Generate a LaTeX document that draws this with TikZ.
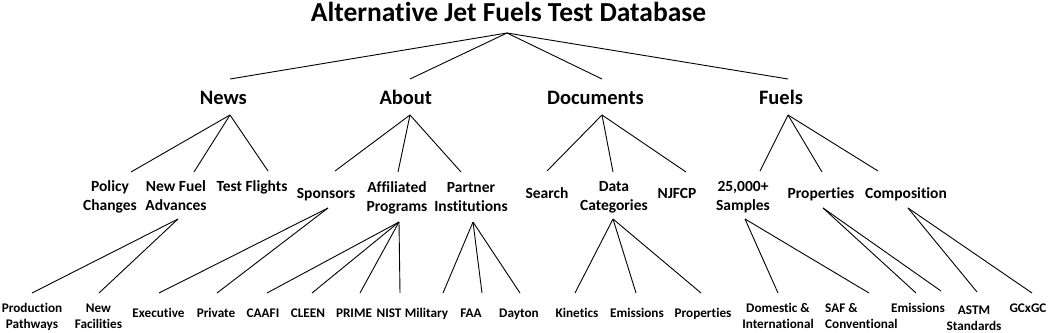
\documentclass[tikz,border=0pt]{standalone}
\usepackage{fontspec}
\setmainfont{Carlito}[Ligatures={NoCommon}]
\newcommand\twoc[2]{\begin{tabular}[t]{@{}c@{}}#1\\#2\end{tabular}}
\newcommand\twoleft[2]{\begin{tabular}[t]{@{}l@{}}#1\\#2\end{tabular}}
\begin{document}
\begin{tikzpicture}[x=1pt,y=-1pt,
  lbl/.style={inner sep=0pt, anchor=base, text=black},
  ttl/.style={lbl, font=\fontsize{27.5}{32}\selectfont\bfseries},
  lvone/.style={lbl, font=\fontsize{20.5}{24}\selectfont\bfseries},
  lvtwo/.style={lbl, font=\fontsize{15.5}{19.5}\selectfont\bfseries},
  lvthree/.style={lbl, font=\fontsize{13.2}{16}\selectfont\bfseries},
  conn/.style={draw=black, line width=0.9pt}]
\useasboundingbox (0,0) rectangle (1052,332);

% ---- title
\node[ttl] (root) at (508.5,21.7) {Alternative Jet Fuels Test Database};
\coordinate (root-b) at (507,33);

% ---- level 1
\node[lvone] (news) at (223.3,104) {News};
\node[lvone] (about) at (405.8,104) {About};
\node[lvone] (docs) at (595.5,104) {Documents};
\node[lvone] (fuels) at (781,104) {Fuels};
\coordinate (news-t) at (230,79);   \coordinate (news-b) at (230,115);
\coordinate (about-t) at (410,79);  \coordinate (about-b) at (410,115);
\coordinate (docs-t) at (602,79);   \coordinate (docs-b) at (602,115);
\coordinate (fuels-t) at (788,79);  \coordinate (fuels-b) at (788,115);

% ---- level 2
\node[lvtwo] (policy) at (110,191) {\twoc{Policy}{Changes}};
\node[lvtwo] (newfuel) at (176,191) {\twoc{New Fuel}{Advances}};
\node[lvtwo] (flights) at (252,191) {Test Flights};
\node[lvtwo] (sponsors) at (326,198) {Sponsors};
\node[lvtwo] (affil) at (397,192) {\twoc{Affiliated}{Programs}};
\node[lvtwo] (partner) at (471,192) {\twoc{Partner}{Institutions}};
\node[lvtwo] (search) at (547,198) {Search};
\node[lvtwo] (datacat) at (614,191) {\twoc{Data}{Categories}};
\node[lvtwo] (njfcp) at (677,198) {NJFCP};
\node[lvtwo] (samples) at (743,191) {\twoc{25,000+}{Samples}};
\node[lvtwo] (props) at (821,198) {Properties};
\node[lvtwo] (comp) at (906,198) {Composition};

\coordinate (policy-t) at (131,172);
\coordinate (newfuel-t) at (194,172);  \coordinate (newfuel-b) at (178,219);
\coordinate (flights-t) at (268,171);
\coordinate (sponsors-t) at (335,171); \coordinate (sponsors-b) at (328,208);
\coordinate (affil-t) at (398,172);    \coordinate (affil-b) at (399,222);
\coordinate (partner-t) at (461,172);  \coordinate (partner-b) at (473,222);
\coordinate (search-t) at (547,171);
\coordinate (datacat-t) at (613,172);  \coordinate (datacat-b) at (613,219);
\coordinate (njfcp-t) at (686,172);
\coordinate (samples-t) at (760,171);  \coordinate (samples-b) at (745,219);
\coordinate (props-t) at (822,172);    \coordinate (props-b) at (823,208);
\coordinate (comp-t) at (878,171);     \coordinate (comp-b) at (908,208);

% ---- level 3
\node[lvthree] (prod) at (32,312) {\twoc{Production}{Pathways}};
\node[lvthree] (newfac) at (98.5,312) {\twoc{New}{Facilities}};
\node[lvthree] (exec) at (158.5,317) {Executive};
\node[lvthree] (private) at (216,317) {Private};
\node[lvthree] (caafi) at (263,317) {CAAFI};
\node[lvthree] (cleen) at (308,317) {CLEEN};
\node[lvthree] (prime) at (354,317) {PRIME};
\node[lvthree] (nist) at (389,317) {NIST};
\node[lvthree] (military) at (426.5,317) {Military};
\node[lvthree] (faa) at (471,317) {FAA};
\node[lvthree] (dayton) at (519,317) {Dayton};
\node[lvthree] (kinetics) at (577,317) {Kinetics};
\node[lvthree] (emisone) at (637,317) {Emissions};
\node[lvthree] (propsthree) at (703,317) {Properties};
\node[lvthree] (domestic) at (778,312) {\twoc{Domestic \&}{International}};
\node[lvthree, anchor=base west] (saf) at (825,312) {\twoleft{SAF \&}{Conventional}};
\node[lvthree] (emistwo) at (918,312) {Emissions};
\node[lvthree] (astm) at (974,314) {\twoc{ASTM}{Standards}};
\node[lvthree] (gcxgc) at (1028,312) {GCxGC};

\coordinate (prod-t) at (32,293);
\coordinate (newfac-t) at (99,293);
\coordinate (exec-t) at (159,293);
\coordinate (private-t) at (217,293);
\coordinate (caafi-t) at (267,293);
\coordinate (cleen-t) at (312,293);
\coordinate (prime-t) at (360,293);
\coordinate (nist-t) at (400,293);
\coordinate (military-t) at (443,293);
\coordinate (faa-t) at (482,293);
\coordinate (dayton-t) at (520,293);
\coordinate (kinetics-t) at (575,293);
\coordinate (emisone-t) at (636,293);
\coordinate (propsthree-t) at (701,293);
\coordinate (domestic-t) at (778,293);
\coordinate (saf-t) at (869,293);
\coordinate (emistwo-ta) at (916,293);
\coordinate (emistwo-tb) at (941,291);
\coordinate (astm-t) at (977,292);
\coordinate (gcxgc-t) at (1032,293);

% ---- connectors
\foreach \c in {news,about,docs,fuels}
  \draw[conn] (root-b) -- (\c-t);
\foreach \c in {policy,newfuel,flights}
  \draw[conn] (news-b) -- (\c-t);
\foreach \c in {sponsors,affil,partner}
  \draw[conn] (about-b) -- (\c-t);
\foreach \c in {search,datacat,njfcp}
  \draw[conn] (docs-b) -- (\c-t);
\foreach \c in {samples,props,comp}
  \draw[conn] (fuels-b) -- (\c-t);
\foreach \c in {prod,newfac}
  \draw[conn] (newfuel-b) -- (\c-t);
\foreach \c in {exec,private}
  \draw[conn] (sponsors-b) -- (\c-t);
\foreach \c in {caafi,cleen,prime,nist}
  \draw[conn] (affil-b) -- (\c-t);
\foreach \c in {military,faa,dayton}
  \draw[conn] (partner-b) -- (\c-t);
\foreach \c in {kinetics,emisone,propsthree}
  \draw[conn] (datacat-b) -- (\c-t);
\foreach \c in {domestic,saf}
  \draw[conn] (samples-b) -- (\c-t);
\draw[conn] (props-b) -- (emistwo-ta);
\draw[conn] (props-b) -- (emistwo-tb);
\foreach \c in {astm,gcxgc}
  \draw[conn] (comp-b) -- (\c-t);
\end{tikzpicture}
\end{document}
